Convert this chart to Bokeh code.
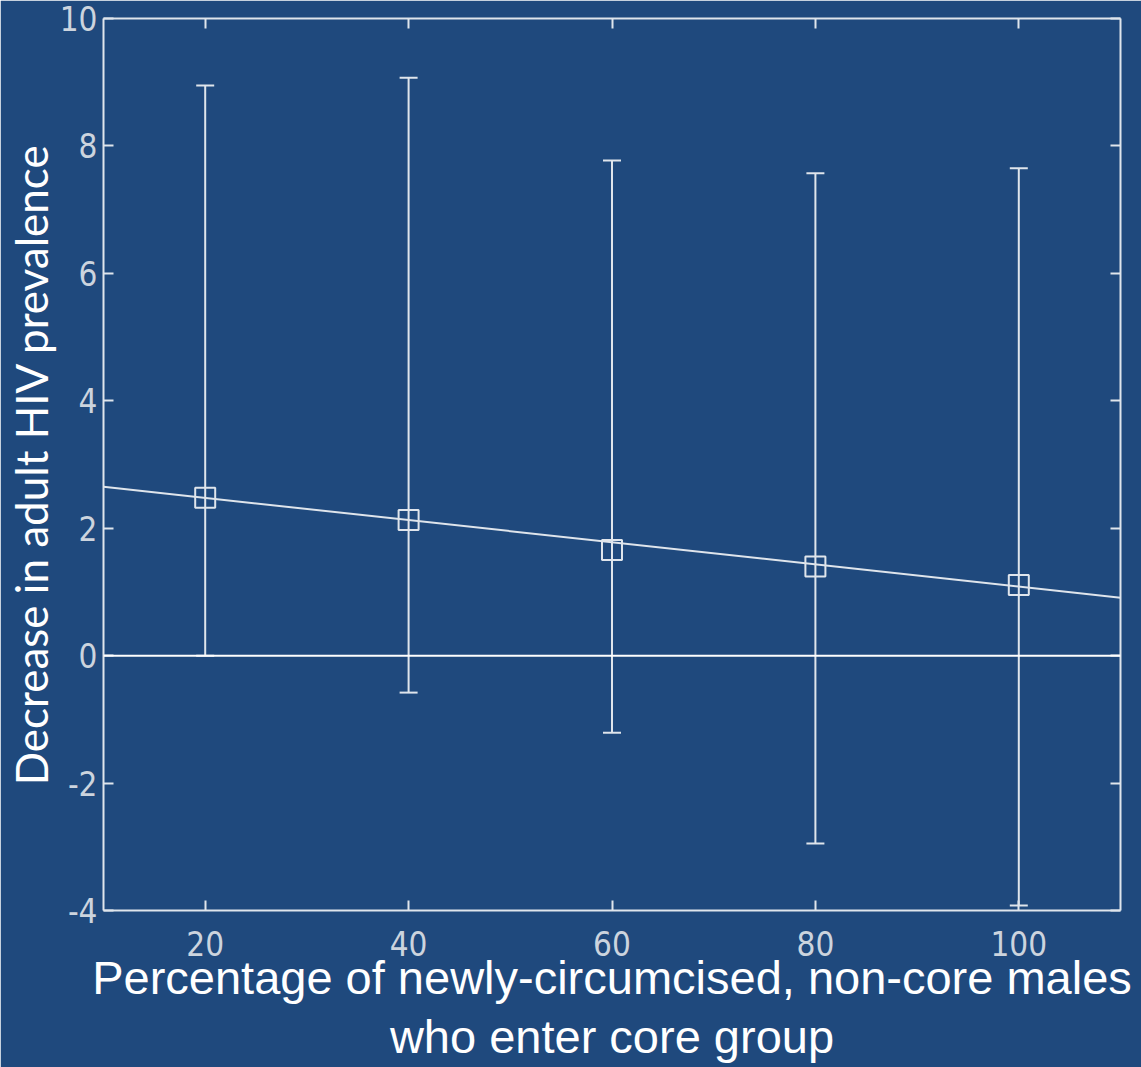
from bokeh.plotting import figure
from bokeh.models import Range1d, LinearAxis, Whisker, ColumnDataSource, Span, FixedTicker, TeeHead
from bokeh.embed import file_html
from bokeh.resources import INLINE

# ---- data ----
x_pct = [20, 40, 60, 80, 100]
decrease = [2.48, 2.13, 1.66, 1.40, 1.11]
err_upper = [8.95, 9.07, 7.77, 7.57, 7.65]
err_lower = [0.0, -0.58, -1.21, -2.95, -3.92]
fit_x = [10, 110]
fit_y = [2.65, 0.91]
x_ticks = [20, 40, 60, 80, 100]
y_ticks = [-4, -2, 0, 2, 4, 6, 8, 10]
y_tick_labels = ["-4", "-2", "0", "2", "4", "6", "8", "10"]
x_title = "Percentage of newly-circumcised, non-core males\nwho enter core group"
y_title = "Decrease in adult HIV prevalence"

BG = "#1F497D"
FG = "#dfe5ec"
TICK_FONT = "'Liberation Sans Narrow', 'DejaVu Sans Condensed', sans-serif"

src = ColumnDataSource(dict(x=x_pct, y=decrease, upper=err_upper, lower=err_lower))

p = figure(width=1141, height=1067, x_range=Range1d(10, 110), y_range=Range1d(-4, 10),
           output_backend="svg", toolbar_location=None,
           background_fill_color=BG, border_fill_color=BG, outline_line_color=None,
           min_border_left=103, min_border_right=21, min_border_top=18, min_border_bottom=157)
p.grid.visible = False

p.add_layout(LinearAxis(), "above")
p.add_layout(LinearAxis(), "right")

for ax in p.axis:
    ax.axis_line_color = FG
    ax.axis_line_width = 2
    ax.major_tick_line_color = FG
    ax.major_tick_line_width = 2
    ax.major_tick_in = 10
    ax.major_tick_out = 0
    ax.minor_tick_line_color = None
    ax.major_label_text_color = "#ccd4de"
    ax.major_label_text_font = TICK_FONT
    ax.major_label_text_font_size = "33px"

for ax in p.xaxis:
    ax.ticker = FixedTicker(ticks=x_ticks)
for ax in p.yaxis:
    ax.ticker = FixedTicker(ticks=y_ticks)

# top/right axes: ticks only, no labels
p.above[0].major_label_overrides = {t: "" for t in x_ticks}
p.above[0].major_label_standoff = 0
p.right[0].major_label_overrides = {t: "" for t in y_ticks}
p.right[0].major_label_standoff = 0

xb = p.below[0]
xb.major_label_standoff = 20
xb.axis_label = x_title
xb.axis_label_text_font = "'Liberation Sans', Arial, sans-serif"
xb.axis_label_text_font_size = "47px"
xb.axis_label_text_font_style = "normal"
xb.axis_label_text_color = "white"
xb.axis_label_text_line_height = 1.13
xb.axis_label_standoff = -8

yl = p.left[0]
yl.major_label_standoff = 6
yl.major_label_overrides = {t: s for t, s in zip(y_ticks, y_tick_labels)}
yl.axis_label = y_title
yl.axis_label_text_font = "Lato"
yl.axis_label_text_font_size = "44px"
yl.axis_label_text_font_style = "normal"
yl.axis_label_text_color = "white"
yl.axis_label_standoff = 0

p.add_layout(Span(location=0, dimension="width", line_color="white", line_width=2))

p.add_layout(Whisker(base="x", upper="upper", lower="lower", source=src,
                     line_color=FG, line_width=2,
                     upper_head=TeeHead(size=18, line_color=FG, line_width=2),
                     lower_head=TeeHead(size=18, line_color=FG, line_width=2)))

p.line(fit_x, fit_y, line_color=FG, line_width=2)
p.scatter("x", "y", source=src, marker="square", size=20, fill_color=None,
          line_color=FG, line_width=2)

open("out.html", "w").write(file_html(p, INLINE))
